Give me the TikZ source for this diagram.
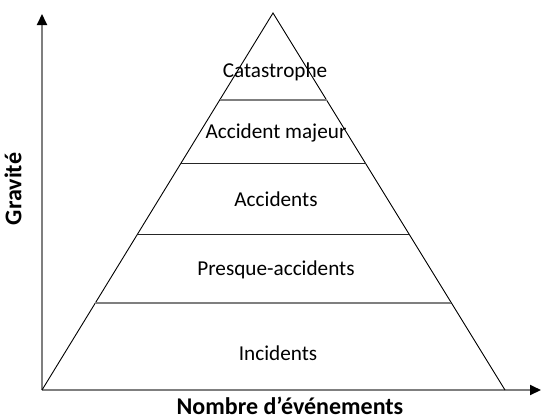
\documentclass[tikz,border=0pt]{standalone}
\usepackage{fontspec}
\setmainfont{Carlito}
\usetikzlibrary{arrows.meta,calc}
\definecolor{axisgray}{HTML}{7F7F7F}
\begin{document}
\begin{tikzpicture}[x=0.5pt,y=-0.5pt,
  axis/.style={draw=axisgray,line width=1pt,-{Triangle[length=5.5pt,width=5pt,color=black]}},
  side/.style={draw=black,line width=0.45pt},
  divgray/.style={draw=axisgray,line width=0.9pt},
  divdark/.style={draw=black!85,line width=0.5pt},
  level/.style={font=\fontsize{10.6}{12}\selectfont,inner sep=0pt},
  axlabel/.style={font=\fontsize{12}{14}\selectfont\bfseries,inner sep=0pt}]
  \useasboundingbox (0,0) rectangle (541,419);
  % corners of the pyramid and axis ends
  \coordinate (O) at (42,390);
  \coordinate (A) at (273,13);
  \coordinate (R) at (505,390);
  \coordinate (Ytip) at (42,14);
  \coordinate (Xtip) at (541,390);
  % axes
  \draw[axis] (O) -- (Ytip);
  \draw[axis] (O) -- (Xtip);
  % pyramid outline
  \draw[side] (O) -- (A) -- (R);
  % dividing lines between levels
  \draw[divgray] ($(O)!0.769!(A)$) -- ($(R)!0.769!(A)$);
  \draw[divdark] ($(O)!0.5995!(A)$) -- ($(R)!0.5995!(A)$);
  \draw[divdark] ($(O)!0.4138!(A)$) -- ($(R)!0.4138!(A)$);
  \draw[divgray] ($(O)!0.2308!(A)$) -- ($(R)!0.2308!(A)$);
  % level labels
  \node[level] (l1) at (275,72) {Catastrophe};
  \node[level] (l2) at (276,133) {Accident majeur};
  \node[level] (l3) at (276,199) {Accidents};
  \node[level] (l4) at (276,270) {Presque-accidents};
  \node[level] (l5) at (278,353) {Incidents};
  % axis labels
  \node[axlabel] (xl) at (290,406) {Nombre d’événements};
  \node[axlabel,rotate=90] (yl) at (13,189) {Gravité};
\end{tikzpicture}
\end{document}
